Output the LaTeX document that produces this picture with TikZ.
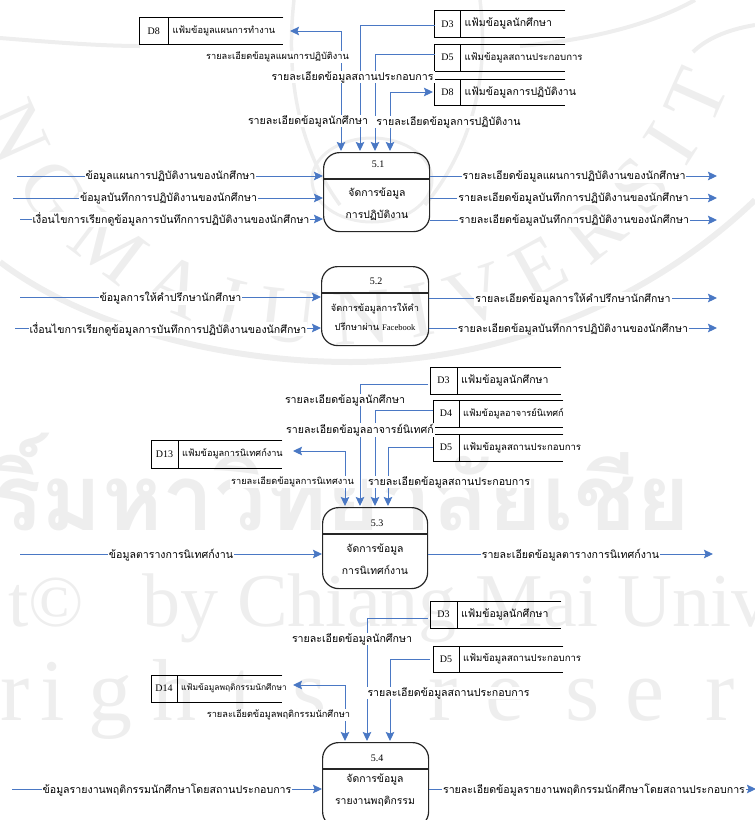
\documentclass[tikz,border=0pt]{standalone}
\usepackage{fontspec}
\setmainfont{Liberation Serif}
\newfontfamily\thaifont[Script=Thai]{Loma}
\newfontfamily\wmthai[Script=Thai]{Loma}
\usetikzlibrary{arrows.meta,calc,decorations.text}
\definecolor{flowblue}{HTML}{4A78C4}
\definecolor{wm}{HTML}{EEEEEE}
\tikzset{
  tip/.tip={Stealth[length=9pt,width=8.5pt,inset=1.5pt]},
  flow/.style={draw=flowblue,line width=1pt,-{tip}},
  flowboth/.style={draw=flowblue,line width=1pt,{tip}-{tip}},
  flowlabel/.style={fill=white,inner xsep=1pt,inner ysep=0.5pt,font=\thaifont\fontsize{10.6}{12}\selectfont},
  flowsmall/.style={flowlabel,font=\thaifont\fontsize{9.2}{11}\selectfont},
  storeline/.style={draw=black,line width=0.9pt},
  storeid/.style={font=\fontsize{10}{12}\selectfont,inner sep=0pt},
  storetext/.style={font=\thaifont\fontsize{10.5}{12}\selectfont,inner sep=0pt,anchor=west},
  storemid/.style={font=\thaifont\fontsize{9.6}{12}\selectfont,inner sep=0pt,anchor=west},
  storenarrow/.style={font=\thaifont\fontsize{9.2}{12}\selectfont,inner sep=0pt,anchor=west},
  storesmall/.style={font=\thaifont\fontsize{8.4}{10}\selectfont,inner sep=0pt,anchor=west},
  procbox/.style={draw=black!85,line width=1.2pt,rounded corners=16pt,inner sep=0pt},
  procline/.style={draw=black!85,line width=1.2pt},
  proctext/.style={font=\thaifont\fontsize{10.4}{12}\selectfont,inner sep=0pt},
  procsmall/.style={font=\thaifont\fontsize{9.2}{11}\selectfont,inner sep=0pt},
  procid/.style={font=\fontsize{10}{12}\selectfont,inner sep=0pt},
  wmbig/.style={text=wm,inner sep=0pt,anchor=base west},
}
% name, x1, y1, x2, y2, xdiv, id, text, textstyle
\newcommand{\dfdstore}[9]{%
  \node[inner sep=0pt,minimum width=#4pt-#2pt,minimum height=#5pt-#3pt,anchor=north west] (#1) at (#2,#3) {};
  \path[storeline] (#1.north east) -- (#1.north west) -- (#1.south west) -- (#1.south east);
  \path[storeline] (#6,#3) -- (#6,#5);
  \node[storeid] (#1id) at ({(#2+#6)/2},{(#3+#5)/2}) {#7};
  \node[#9] (#1txt) at (#6+4,{(#3+#5)/2}) {\thaifont #8};
}
% name, x1, y1, x2, y2, ydiv
\newcommand{\dfdproc}[6]{%
  \node[procbox,minimum width=#4pt-#2pt,minimum height=#5pt-#3pt,anchor=north west] (#1) at (#2,#3) {};
  \path[procline] (#1.west |- 0,#6) -- (#1.east |- 0,#6);
}
\begin{document}
\begin{tikzpicture}[x=1pt,y=-1pt]
\useasboundingbox (0,0) rectangle (755,820);
\clip (0,0) rectangle (755,820);
% watermark
\begin{scope}
\draw[wm,line width=6pt] (0,262) .. controls (90,330) and (230,362) .. (350,362) .. controls (490,362) and (640,310) .. (755,200);
\draw[wm,line width=4pt] (0,38) .. controls (50,42) and (100,46) .. (140,46);
\draw[wm,line width=4pt] (520,46) .. controls (590,40) and (650,25) .. (695,0);
\draw[wm,line width=4pt] (755,25) .. controls (725,30) and (705,40) .. (693,52);
\draw[wm,line width=3.5pt] (294,0) .. controls (285,80) and (300,150) .. (340,205);
\draw[wm,line width=3.5pt] (480,0) .. controls (490,80) and (470,150) .. (425,205);
\draw[wm,line width=3pt] (372,180) ellipse[x radius=60,y radius=42];
\path[decorate,decoration={text along path,text align={left indent=0pt},
   text={|\fontsize{80}{84}\selectfont\color{wm}|N G M A I U N I V E R S I T Y}}]
   (-18,115) .. controls (90,425) and (590,425) .. (725,95);
\node[wmbig,font=\wmthai\bfseries\fontsize{92}{100}\selectfont] (wm1) at (-8,530) {ริ์มหาวิทยาลัยเชีย};
\node[wmbig,font=\fontsize{73}{80}\selectfont] (wm2a) at (8,626) {t©};
\node[wmbig,font=\fontsize{76}{80}\selectfont] (wm2) at (142,626) {by Chiang Mai Univ};
\foreach \c/\x in {r/0,i/40,g/88,h/152,t/230,s/292,r/428,e/485,s/565,e/625,r/705}
  \node[wmbig,font=\fontsize{88}{90}\selectfont] (wmr\x) at (\x,720) {\c};
\end{scope}

% ---------- 5.1 ----------
\dfdproc{p1}{323}{152}{429}{231}{179}
\node[procid] (p1id) at (378,164) {5.1};
\node[proctext] (p1a) at (377,194) {จัดการข้อมูล};
\node[proctext] (p1b) at (377,215) {การปฏิบัติงาน};
\dfdstore{s1a}{139}{17.5}{283}{44}{168.5}{D8}{แฟ้มข้อมูลแผนการทำงาน}{storenarrow}
\dfdstore{s1b}{434.5}{10}{565}{37.5}{460.5}{D3}{แฟ้มข้อมูลนักศึกษา}{storetext}
\dfdstore{s1c}{434.5}{44.5}{565}{71}{460.5}{D5}{แฟ้มข้อมูลสถานประกอบการ}{storemid}
\dfdstore{s1d}{434.5}{79}{565}{105}{460.5}{D8}{แฟ้มข้อมูลการปฏิบัติงาน}{storetext}
\coordinate (t1a) at (341,151);\coordinate (t1b) at (360,151);\coordinate (t1c) at (375,151);\coordinate (t1d) at (390,151);
\coordinate (s1aend) at (290,31);
\draw[flowboth] (t1a) -- (t1a |- s1aend) -- (s1aend);
\draw[flow] (s1b.west |- 0,25) -- (t1b |- 0,25) -- (t1b);
\draw[flow] (s1c.west |- 0,54) -- (t1c |- 0,54) -- (t1c);
\draw[flowboth] (t1d) -- (t1d |- 0,92) -- (433,92);
\node[flowsmall] (l1a) at (277.5,57) {รายละเอียดข้อมูลแผนการปฏิบัติงาน};
\node[flowlabel] (l1b) at (352.5,77) {รายละเอียดข้อมูลสถานประกอบการ};
\node[flowlabel] (l1c) at (308,121) {รายละเอียดข้อมูลนักศึกษา};
\node[flowlabel] (l1d) at (448.5,122) {รายละเอียดข้อมูลการปฏิบัติงาน};
\coordinate (i1a) at (17,176);\coordinate (i1b) at (13,198);\coordinate (i1c) at (20,219);
\draw[flow] (i1a) -- (p1.west |- i1a);
\draw[flow] (i1b) -- (p1.west |- i1b);
\draw[flow] (i1c) -- (p1.west |- i1c);
\node[flowlabel] at (170.5,176.5) (li1a) {ข้อมูลแผนการปฏิบัติงานของนักศึกษา};
\node[flowlabel] at (168.5,198.5) (li1b) {ข้อมูลบันทึกการปฏิบัติงานของนักศึกษา};
\node[flowlabel] at (171,219.5) (li1c) {เงื่อนไขการเรียกดูข้อมูลการบันทึกการปฏิบัติงานของนักศึกษา};
\coordinate (o1a) at (717,176);\coordinate (o1b) at (717,198);\coordinate (o1c) at (717,220);
\draw[flow] (p1.east |- o1a) -- (o1a);
\draw[flow] (p1.east |- o1b) -- (o1b);
\draw[flow] (p1.east |- o1c) -- (o1c);
\node[flowlabel] at (574,176.5) (lo1a) {รายละเอียดข้อมูลแผนการปฏิบัติงานของนักศึกษา};
\node[flowlabel] at (573.5,198.5) (lo1b) {รายละเอียดข้อมูลบันทึกการปฏิบัติงานของนักศึกษา};
\node[flowlabel] at (574,220.5) (lo1c) {รายละเอียดข้อมูลบันทึกการปฏิบัติงานของนักศึกษา};

% ---------- 5.2 ----------
\dfdproc{p2}{321}{266}{428}{345}{293}
\node[procid] (p2id) at (376,281) {5.2};
\node[procsmall] (p2a) at (375,309) {จัดการข้อมูลการให้คำ};
\node[procsmall] (p2b) at (375,327) {ปรึกษาผ่าน {\rmfamily\fontsize{8.5}{10}\selectfont Facebook}};
\coordinate (i2a) at (20,297);\coordinate (i2b) at (15,328);
\draw[flow] (i2a) -- (p2.west |- i2a);
\draw[flow] (i2b) -- (p2.west |- i2b);
\node[flowlabel] at (170.5,298) (li2a) {ข้อมูลการให้คำปรึกษานักศึกษา};
\node[flowlabel] at (168,329) (li2b) {เงื่อนไขการเรียกดูข้อมูลการบันทึกการปฏิบัติงานของนักศึกษา};
\coordinate (o2a) at (717,298);\coordinate (o2b) at (717,328);
\draw[flow] (p2.east |- o2a) -- (o2a);
\draw[flow] (p2.east |- o2b) -- (o2b);
\node[flowlabel] at (573,299) (lo2a) {รายละเอียดข้อมูลการให้คำปรึกษานักศึกษา};
\node[flowlabel] at (573,329) (lo2b) {รายละเอียดข้อมูลบันทึกการปฏิบัติงานของนักศึกษา};

% ---------- 5.3 ----------
\dfdproc{p3}{322}{507}{427}{588}{534}
\node[procid] (p3id) at (377,523) {5.3};
\node[proctext] (p3a) at (375,550) {จัดการข้อมูล};
\node[proctext] (p3b) at (375,570) {การนิเทศก์งาน};
\dfdstore{s3a}{151}{440}{282}{468}{178}{D13}{แฟ้มข้อมูลการนิเทศก์งาน}{storenarrow}
\dfdstore{s3b}{430}{367}{561}{394}{457}{D3}{แฟ้มข้อมูลนักศึกษา}{storetext}
\dfdstore{s3c}{433}{400}{563}{427}{459}{D4}{แฟ้มข้อมูลอาจารย์นิเทศก์}{storenarrow}
\dfdstore{s3d}{433}{434}{563}{461}{459}{D5}{แฟ้มข้อมูลสถานประกอบการ}{storemid}
\coordinate (t3a) at (345,506);\coordinate (t3b) at (360,506);\coordinate (t3c) at (375,506);\coordinate (t3d) at (388,506);
\coordinate (s3aend) at (293,451);
\draw[flowboth] (t3a) -- (t3a |- s3aend) -- (s3aend);
\draw[flow,shorten <=2pt] (s3b.west |- 0,384) -- (t3b |- 0,384) -- (t3b);
\draw[flow] (s3c.west |- 0,410) -- (t3c |- 0,410) -- (t3c);
\draw[flow] (s3d.west |- 0,447) -- (t3d |- 0,447) -- (t3d);
\node[flowlabel] (l3b) at (345,400) {รายละเอียดข้อมูลนักศึกษา};
\node[flowlabel] (l3c) at (360,430) {รายละเอียดข้อมูลอาจารย์นิเทศก์};
\node[flowsmall] (l3a) at (292.5,482) {รายละเอียดข้อมูลการนิเทศงาน};
\node[flowlabel] (l3d) at (449,482) {รายละเอียดข้อมูลสถานประกอบการ};
\coordinate (i3a) at (20,554);\coordinate (o3a) at (713,554);
\draw[flow] (i3a) -- (p3.west |- i3a);
\draw[flow] (p3.east |- o3a) -- (o3a);
\node[flowlabel] at (171,555) (li3a) {ข้อมูลตารางการนิเทศก์งาน};
\node[flowlabel] at (570.5,555) (lo3a) {รายละเอียดข้อมูลตารางการนิเทศก์งาน};

% ---------- 5.4 ----------
\node[procbox,minimum width=106pt,minimum height=85pt,anchor=north west] (p4) at (322,742) {};
\path[procline] (p4.west |- 0,769) -- (p4.east |- 0,769);
\node[procid] (p4id) at (377,758) {5.4};
\node[proctext] (p4a) at (375,780) {จัดการข้อมูล};
\node[proctext] (p4b) at (375,801) {รายงานพฤติกรรม};
\dfdstore{s4a}{151}{675}{282}{702}{177}{D14}{แฟ้มข้อมูลพฤติกรรมนักศึกษา}{storesmall}
\dfdstore{s4b}{430}{601}{561}{628}{457}{D3}{แฟ้มข้อมูลนักศึกษา}{storetext}
\dfdstore{s4c}{433}{646}{563}{672}{459}{D5}{แฟ้มข้อมูลสถานประกอบการ}{storemid}
\coordinate (t4a) at (345,741);\coordinate (t4b) at (367,741);\coordinate (t4c) at (390,741);
\coordinate (s4aend) at (293,685);
\draw[flowboth] (t4a) -- (t4a |- s4aend) -- (s4aend);
\draw[flow,shorten <=2pt] (s4b.west |- 0,618) -- (t4b |- 0,618) -- (t4b);
\draw[flow,shorten <=3pt] (s4c.west |- 0,659) -- (t4c |- 0,659) -- (t4c);
\node[flowlabel] (l4b) at (352,639) {รายละเอียดข้อมูลนักศึกษา};
\node[flowlabel] (l4c) at (448.5,693) {รายละเอียดข้อมูลสถานประกอบการ};
\node[flowsmall] (l4a) at (278.5,715) {รายละเอียดข้อมูลพฤติกรรมนักศึกษา};
\coordinate (i4a) at (12,789);\coordinate (o4a) at (756,789);
\draw[flow] (i4a) -- (p4.west |- i4a);
\draw[flow] (p4.east |- o4a) -- (o4a);
\node[flowlabel] at (167,790) (li4a) {ข้อมูลรายงานพฤติกรรมนักศึกษาโดยสถานประกอบการ};
\node[flowlabel] at (594,790) (lo4a) {รายละเอียดข้อมูลรายงานพฤติกรรมนักศึกษาโดยสถานประกอบการ};
\end{tikzpicture}
\end{document}
